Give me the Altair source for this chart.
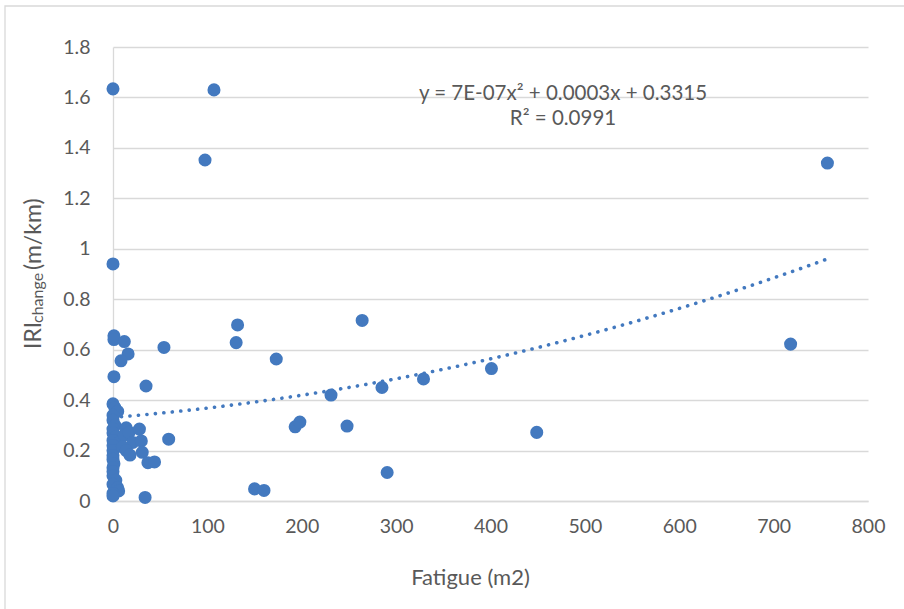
import altair as alt
import pandas as pd

# Fatigue area (m2) and IRI change (m/km) for each section
fatigue = [
    0, 107, 97.5, 757, 0,
    1, 1, 12, 16, 8.5, 54, 1,
    132, 130.5, 173, 35,
    264, 231, 193, 198, 248, 285, 290.5, 329, 401, 449, 718,
    59, 150, 160, 34,
    0, 2, 5, 0, 0, 2, 0, 0, 3, 0, 7, 0, 0, 0, 0, 1, 0, 0, 0, 3, 0, 5, 6, 0, 0,
    14, 12, 17, 21, 28, 30, 10, 14, 18, 31, 37, 44,
]
iri_change = [
    1.634, 1.63, 1.352, 1.34, 0.94,
    0.655, 0.64, 0.632, 0.583, 0.556, 0.609, 0.493,
    0.698, 0.628, 0.563, 0.456,
    0.716, 0.42, 0.294, 0.313, 0.297, 0.45, 0.113, 0.484, 0.525, 0.272, 0.622,
    0.245, 0.048, 0.042, 0.014,
    0.385, 0.37, 0.355, 0.34, 0.32, 0.30, 0.285, 0.27, 0.255, 0.24, 0.232, 0.22,
    0.20, 0.18, 0.165, 0.148, 0.132, 0.117, 0.10, 0.082, 0.066, 0.052, 0.04, 0.03, 0.02,
    0.29, 0.262, 0.272, 0.232, 0.285, 0.238, 0.215, 0.2, 0.182, 0.193, 0.152, 0.155,
]

# Polynomial trendline coefficients (a*x^2 + b*x + c) and its fit statistic
trend_coef = [7e-07, 0.0003, 0.3315]
trend_x_max = 757
equation_lines = ["y = 7E-07x² + 0.0003x + 0.3315", "R² = 0.0991"]

x_ticks = [0, 100, 200, 300, 400, 500, 600, 700, 800]
y_ticks = [0, 0.2, 0.4, 0.6, 0.8, 1, 1.2, 1.4, 1.6, 1.8]

FONT = "Lato"
GREY_TEXT = "#595959"
GRID = "#D9D9D9"
BLUE = "#4379BF"

df = pd.DataFrame({"fatigue": fatigue, "iri": iri_change})

x_scale = alt.Scale(domain=[0, 800], nice=False, zero=False)
y_scale = alt.Scale(domain=[0, 1.8], nice=False, zero=False)

x_axis = alt.Axis(
    values=x_ticks, grid=False, ticks=False, domainColor=GRID, domainWidth=1.3,
    labelFont=FONT, labelFontSize=19.5, labelColor=GREY_TEXT, labelPadding=16,
    labelFlush=False,
    title="Fatigue (m2)", titleFont=FONT, titleFontSize=22, titleFontWeight="normal",
    titleColor=GREY_TEXT, titleX=357, titleY=83, titleBaseline="alphabetic",
    titleAlign="center",
)
y_axis = alt.Axis(
    values=y_ticks, grid=True, gridColor=GRID, gridWidth=1.3, ticks=False,
    domainColor=GRID, domainWidth=1.3, labelFlush=False,
    labelFont=FONT, labelFontSize=19.5, labelColor=GREY_TEXT, labelPadding=23,
    labelExpr="format(datum.value, '~g')", title=None,
)

points = alt.Chart(df).mark_circle(size=170, opacity=1, color=BLUE).encode(
    x=alt.X("fatigue:Q", scale=x_scale, axis=x_axis),
    y=alt.Y("iri:Q", scale=y_scale, axis=y_axis),
)

a, b, c = trend_coef
trend = (
    alt.Chart(alt.sequence(0, trend_x_max + 1, 3, as_="fatigue"))
    .transform_calculate(iri=f"{a}*datum.fatigue*datum.fatigue + {b}*datum.fatigue + {c}")
    .mark_line(color=BLUE, strokeWidth=3.6, strokeDash=[0.1, 8.4], strokeCap="round")
    .encode(x=alt.X("fatigue:Q", scale=x_scale), y=alt.Y("iri:Q", scale=y_scale))
)

def note(txt, y):
    return alt.Chart(pd.DataFrame({"t": [txt]})).mark_text(
        font=FONT, fontSize=20.5, color=GREY_TEXT, align="center", baseline="alphabetic"
    ).encode(text="t:N", x=alt.value(450), y=alt.value(y))

eq_text = note(equation_lines[0], 53)
r2_text = note(equation_lines[1], 78)

# Rotated y-axis title built from pieces so "change" can sit as a subscript
def rotated(txt, size, x, y):
    return alt.Chart(pd.DataFrame({"t": [txt]})).mark_text(
        font=FONT, fontSize=size, color=GREY_TEXT, angle=270,
        align="left", baseline="alphabetic",
    ).encode(text="t:N", x=alt.value(x), y=alt.value(y))

y_title = (
    rotated("IRI", 23, -72, 302)
    + rotated("change", 16, -70.5, 276)
    + rotated("(m/km)", 23, -72, 223)
)

frame = alt.Chart(pd.DataFrame({"k": [0]})).mark_rect(
    fillOpacity=0, stroke=GRID, strokeWidth=1.3
).encode(x=alt.value(-108), y=alt.value(-41), x2=alt.value(800), y2=alt.value(570))

chart = (
    alt.layer(frame, trend, points, eq_text, r2_text, y_title)
    .properties(
        width=755, height=454,
        autosize=alt.AutoSizeParams(type="none"),
        padding={"left": 113, "top": 47, "right": 36, "bottom": 108},
        background="white",
    )
    .configure_view(stroke=None)
)

chart.save("out.html", embed_options={"renderer": "svg", "actions": False})
